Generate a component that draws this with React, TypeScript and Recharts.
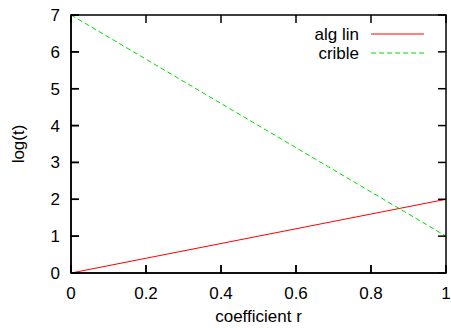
import React from 'react';
import { LineChart, Line, XAxis, YAxis } from 'recharts';

const rValues = [0, 1];
const algLin = [0, 2];
const crible = [7, 1];
const xTicks = [0, 0.2, 0.4, 0.6, 0.8, 1];
const yTicks = [0, 1, 2, 3, 4, 5, 6, 7];
const xDomain = [0, 1];
const yDomain = [0, 7];
const seriesNames = ['alg lin', 'crible'];
const seriesColors = ['#ff0000', '#00dd00'];
const seriesDash = [undefined, '5 3'];
const xTitle = 'coefficient r';
const yTitle = 'log(t)';

const data = rValues.map((r, i) => ({ r, algLin: algLin[i], crible: crible[i] }));

const FONT = 'Liberation Sans, Arial, Helvetica, sans-serif';
const FS = 17;
const TL = 8;
const BW = 1.5;
const W = 451;
const H = 328;
const M = { top: 15, right: 5, bottom: 55, left: 71 };
const PL = M.left;
const PR = W - M.right;
const PT = M.top;
const PB = H - M.bottom;
const sx = (v: number) => PL + ((v - xDomain[0]) / (xDomain[1] - xDomain[0])) * (PR - PL);
const sy = (v: number) => PB - ((v - yDomain[0]) / (yDomain[1] - yDomain[0])) * (PB - PT);

const Overlay = () => (
  <svg width={W} height={H} style={{ position: 'absolute', left: 0, top: 0, pointerEvents: 'none' }}>
    <rect x={PL} y={PT} width={PR - PL} height={PB - PT} fill="none" stroke="#000" strokeWidth={BW} />
    {xTicks.map((t) => (
      <g key={'x' + t}>
        <line x1={sx(t)} x2={sx(t)} y1={PB} y2={PB - TL} stroke="#000" strokeWidth={BW} />
        <line x1={sx(t)} x2={sx(t)} y1={PT} y2={PT + TL} stroke="#000" strokeWidth={BW} />
      </g>
    ))}
    {yTicks.map((t) => (
      <g key={'y' + t}>
        <line x1={PL} x2={PL + TL} y1={sy(t)} y2={sy(t)} stroke="#000" strokeWidth={BW} />
        <line x1={PR} x2={PR - TL} y1={sy(t)} y2={sy(t)} stroke="#000" strokeWidth={BW} />
      </g>
    ))}
    <text x={(PL + PR) / 2} y={322} textAnchor="middle" fontFamily={FONT} fontSize={FS} fill="#000">
      {xTitle}
    </text>
    <text
      x={18}
      y={(PT + PB) / 2}
      dy="0.36em"
      textAnchor="middle"
      fontFamily={FONT}
      fontSize={FS}
      fill="#000"
      transform={`rotate(-90 18 ${(PT + PB) / 2})`}
    >
      {yTitle}
    </text>
    {seriesNames.map((name, i) => {
      const cy = 34 + i * 19;
      return (
        <g key={name}>
          <text x={359} y={cy} dy="0.36em" textAnchor="end" fontFamily={FONT} fontSize={FS} fill="#000">
            {name}
          </text>
          <line x1={371} x2={424} y1={cy} y2={cy} stroke={seriesColors[i]} strokeWidth={1} strokeDasharray={seriesDash[i]} />
        </g>
      );
    })}
  </svg>
);

export default function App() {
  return (
    <div style={{ position: 'absolute', left: 0, top: 0, width: W, height: H, background: '#fff' }}>
      <LineChart width={W} height={H} data={data} margin={{ top: M.top, right: M.right, bottom: 0, left: 0 }}>
        <XAxis
          dataKey="r"
          type="number"
          domain={xDomain}
          ticks={xTicks}
          height={M.bottom}
          stroke="#000"
          fontSize={FS}
          fontFamily={FONT}
          tickSize={-TL}
          tickMargin={22}
          tickLine={{ stroke: '#000', strokeWidth: BW }}
          axisLine={{ stroke: '#000', strokeWidth: BW }}
        />
        <YAxis
          type="number"
          domain={yDomain}
          ticks={yTicks}
          width={M.left}
          stroke="#000"
          fontSize={FS}
          fontFamily={FONT}
          tickSize={-TL}
          tickMargin={19}
          tickLine={{ stroke: '#000', strokeWidth: BW }}
          axisLine={{ stroke: '#000', strokeWidth: BW }}
        />
        <Line
          dataKey="algLin"
          name={seriesNames[0]}
          stroke={seriesColors[0]}
          strokeWidth={1}
          dot={false}
          type="linear"
          isAnimationActive={false}
        />
        <Line
          dataKey="crible"
          name={seriesNames[1]}
          stroke={seriesColors[1]}
          strokeWidth={1}
          strokeDasharray="5 3"
          dot={false}
          type="linear"
          isAnimationActive={false}
        />
      </LineChart>
      <Overlay />
    </div>
  );
}
